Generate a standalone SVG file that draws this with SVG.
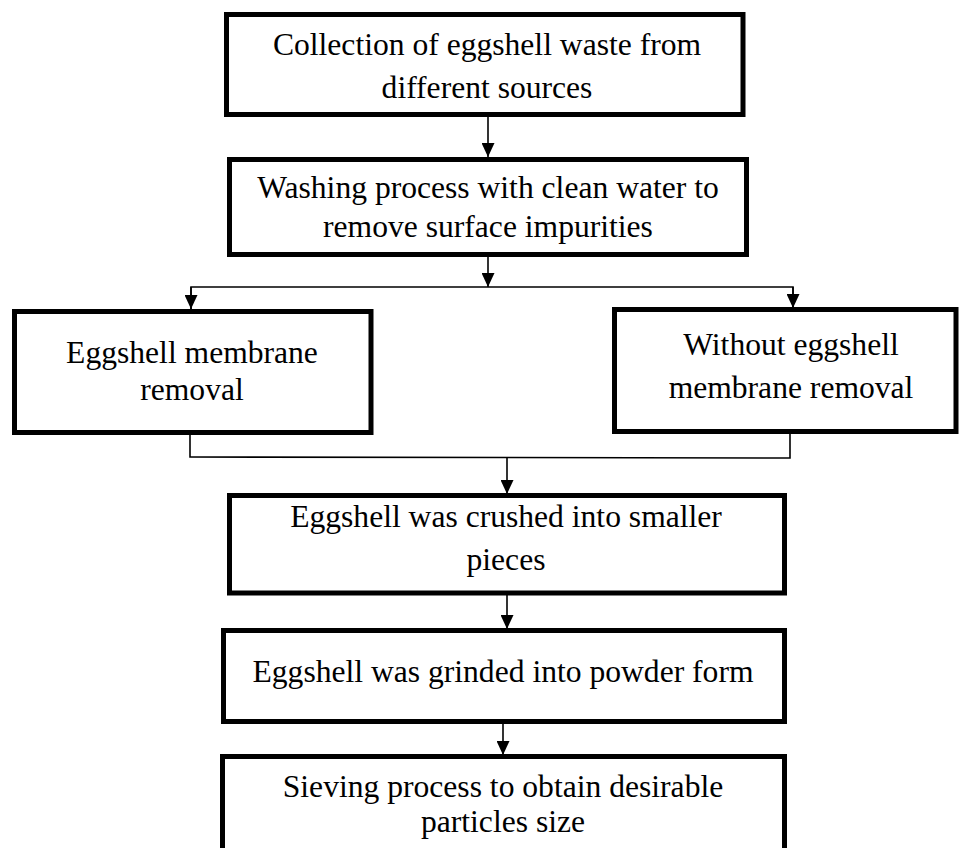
<svg xmlns="http://www.w3.org/2000/svg" width="959" height="848" viewBox="0 0 959 848">
<style>
.box{fill:#fff;stroke:#000;stroke-width:5}
.t{font-family:"Liberation Serif","Times New Roman",serif;font-size:31.6px;fill:#000;text-anchor:middle}
.c{fill:none;stroke:#000;stroke-width:1.6}
</style>
<defs>
<marker id="ah" viewBox="0 0 14 13" refX="14" refY="6.5" markerWidth="14" markerHeight="13" markerUnits="userSpaceOnUse" orient="auto">
<path d="M0,0 L14,6.5 L0,13 z" fill="#000"/>
</marker>
</defs>
<rect width="959" height="848" fill="#fff"/>
<g id="connectors">
<line class="c" x1="488" y1="117" x2="488" y2="157" marker-end="url(#ah)"/>
<line class="c" x1="488" y1="257" x2="488" y2="287" marker-end="url(#ah)"/>
<polyline class="c" points="191,309 191,287 793,287 793,308"/>
<line class="c" x1="191" y1="287" x2="191" y2="309" marker-end="url(#ah)"/>
<line class="c" x1="793" y1="287" x2="793" y2="308" marker-end="url(#ah)"/>
<polyline class="c" points="190,434 190,457 790,458 790,433"/>
<line class="c" x1="507" y1="457" x2="507" y2="494" marker-end="url(#ah)"/>
<line class="c" x1="507" y1="595" x2="507" y2="629" marker-end="url(#ah)"/>
<line class="c" x1="503" y1="724" x2="503" y2="755" marker-end="url(#ah)"/>
</g>
<g id="n1">
<rect class="box" x="226.5" y="14.5" width="516.5" height="100"/>
<text class="t" x="487" y="55">Collection of eggshell waste from</text>
<text class="t" x="487" y="98">different sources</text>
</g>
<g id="n2">
<rect class="box" x="229.5" y="159.5" width="517" height="95"/>
<text class="t" x="488" y="198">Washing process with clean water to</text>
<text class="t" x="488" y="237">remove surface impurities</text>
</g>
<g id="n3">
<rect class="box" x="14.5" y="311.5" width="356.5" height="121"/>
<text class="t" x="192" y="363">Eggshell membrane</text>
<text class="t" x="192" y="400">removal</text>
</g>
<g id="n4">
<rect class="box" x="614.5" y="309.5" width="341.5" height="122"/>
<text class="t" x="791" y="355">Without eggshell</text>
<text class="t" x="791" y="398">membrane removal</text>
</g>
<g id="n5">
<rect class="box" x="229.5" y="495.5" width="555" height="97.5"/>
<text class="t" x="506" y="527">Eggshell was crushed into smaller</text>
<text class="t" x="506" y="570">pieces</text>
</g>
<g id="n6">
<rect class="box" x="223.5" y="630.5" width="561" height="91"/>
<text class="t" x="503" y="682">Eggshell was grinded into powder form</text>
</g>
<g id="n7">
<rect class="box" x="222.5" y="756.5" width="562" height="110"/>
<text class="t" x="503" y="797">Sieving process to obtain desirable</text>
<text class="t" x="503" y="832">particles size</text>
</g>
</svg>
